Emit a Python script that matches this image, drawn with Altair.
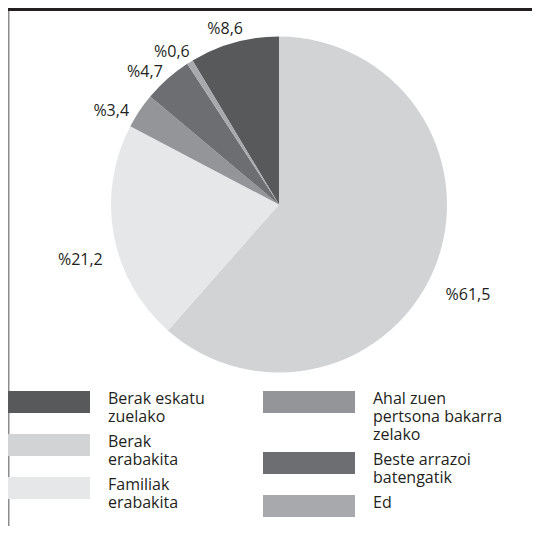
import altair as alt
import pandas as pd

# slices in clockwise order starting from 12 o'clock
categories = [
    "Berak\nerabakita",
    "Familiak\nerabakita",
    "Ahal zuen\npertsona bakarra\nzelako",
    "Beste arrazoi\nbatengatik",
    "Ed",
    "Berak eskatu\nzuelako",
]
values = [61.5, 21.2, 3.4, 4.7, 0.6, 8.6]
colors = ["#d1d3d4", "#e6e7e8", "#939598", "#6d6e71", "#a7a9ac", "#58595b"]
legend_column = [1, 1, 2, 2, 2, 1]

# legend order in each column
col1_order = ["Berak eskatu\nzuelako", "Berak\nerabakita", "Familiak\nerabakita"]
col2_order = ["Ahal zuen\npertsona bakarra\nzelako", "Beste arrazoi\nbatengatik", "Ed"]

color_of = dict(zip(categories, colors))

df = pd.DataFrame({
    "cat": categories,
    "value": values,
    "order": list(range(len(categories))),
    "col": legend_column,
})

FONT = "Open Sans"
TXT = "#231f20"
CX, CY, R = 271, 196.5, 168

base = alt.Chart(df).transform_window(
    cum="sum(value)", sort=[alt.SortField("order")], frame=[None, 0]
).transform_calculate(
    start="datum.cum - datum.value",
    mid="datum.cum - datum.value / 2",
    label="'%' + replace(format(datum.value, '.1f'), '.', ',')",
)

theta_scale = alt.Scale(domain=[0, 100])


def legend(x, pad):
    return alt.Legend(
        orient="none", legendX=x, legendY=375, title=None,
        symbolType="M-5.75,0H5.75V2.75H-5.75Z", symbolSize=256, symbolStrokeWidth=0,
        symbolOpacity=1,
        labelFont=FONT, labelFontSize=16, labelColor=TXT, labelLimit=300,
        labelOffset=56, labelBaseline="top", rowPadding=pad, padding=0,
        labelExpr="split(datum.label, '\\n')", direction="vertical",
    )


def arcs(col, order, x, pad):
    return base.transform_filter(f"datum.col == {col}").mark_arc(
        radius=R
    ).encode(
        theta=alt.Theta("start:Q", scale=theta_scale),
        theta2="cum:Q",
        color=alt.Color(
            "cat:N",
            scale=alt.Scale(domain=order, range=[color_of[c] for c in order]),
            legend=legend(x, pad),
        ),
        x=alt.value(CX),
        y=alt.value(CY),
    )


arcs1 = arcs(1, col1_order, 28, 1)
arcs2 = arcs(2, col2_order, 293, 1)

labels = base.mark_text(
    radius=202, dy=19, font=FONT, fontSize=16, color=TXT, align="center", baseline="middle"
).encode(
    theta=alt.Theta("mid:Q", scale=theta_scale),
    text="label:N",
    x=alt.value(CX),
    y=alt.value(CY),
)

one = alt.Data(values=[{}])
header = alt.Chart(one).mark_rect(color="#231f20").encode(
    x=alt.value(0), x2=alt.value(532), y=alt.value(0), y2=alt.value(3)
)
leftline = alt.Chart(one).mark_rule(color="#8c8c8c", strokeWidth=1.5).encode(
    x=alt.value(0.75), y=alt.value(3), y2=alt.value(526)
)

chart = alt.layer(arcs1, arcs2, labels, header, leftline).resolve_scale(
    color="independent"
).properties(
    width=524, height=518,
    autosize=alt.AutoSizeParams(type="none"),
    padding=0,
).configure_view(stroke=None)

chart.save("out.html", embed_options={"renderer": "svg", "actions": False})
